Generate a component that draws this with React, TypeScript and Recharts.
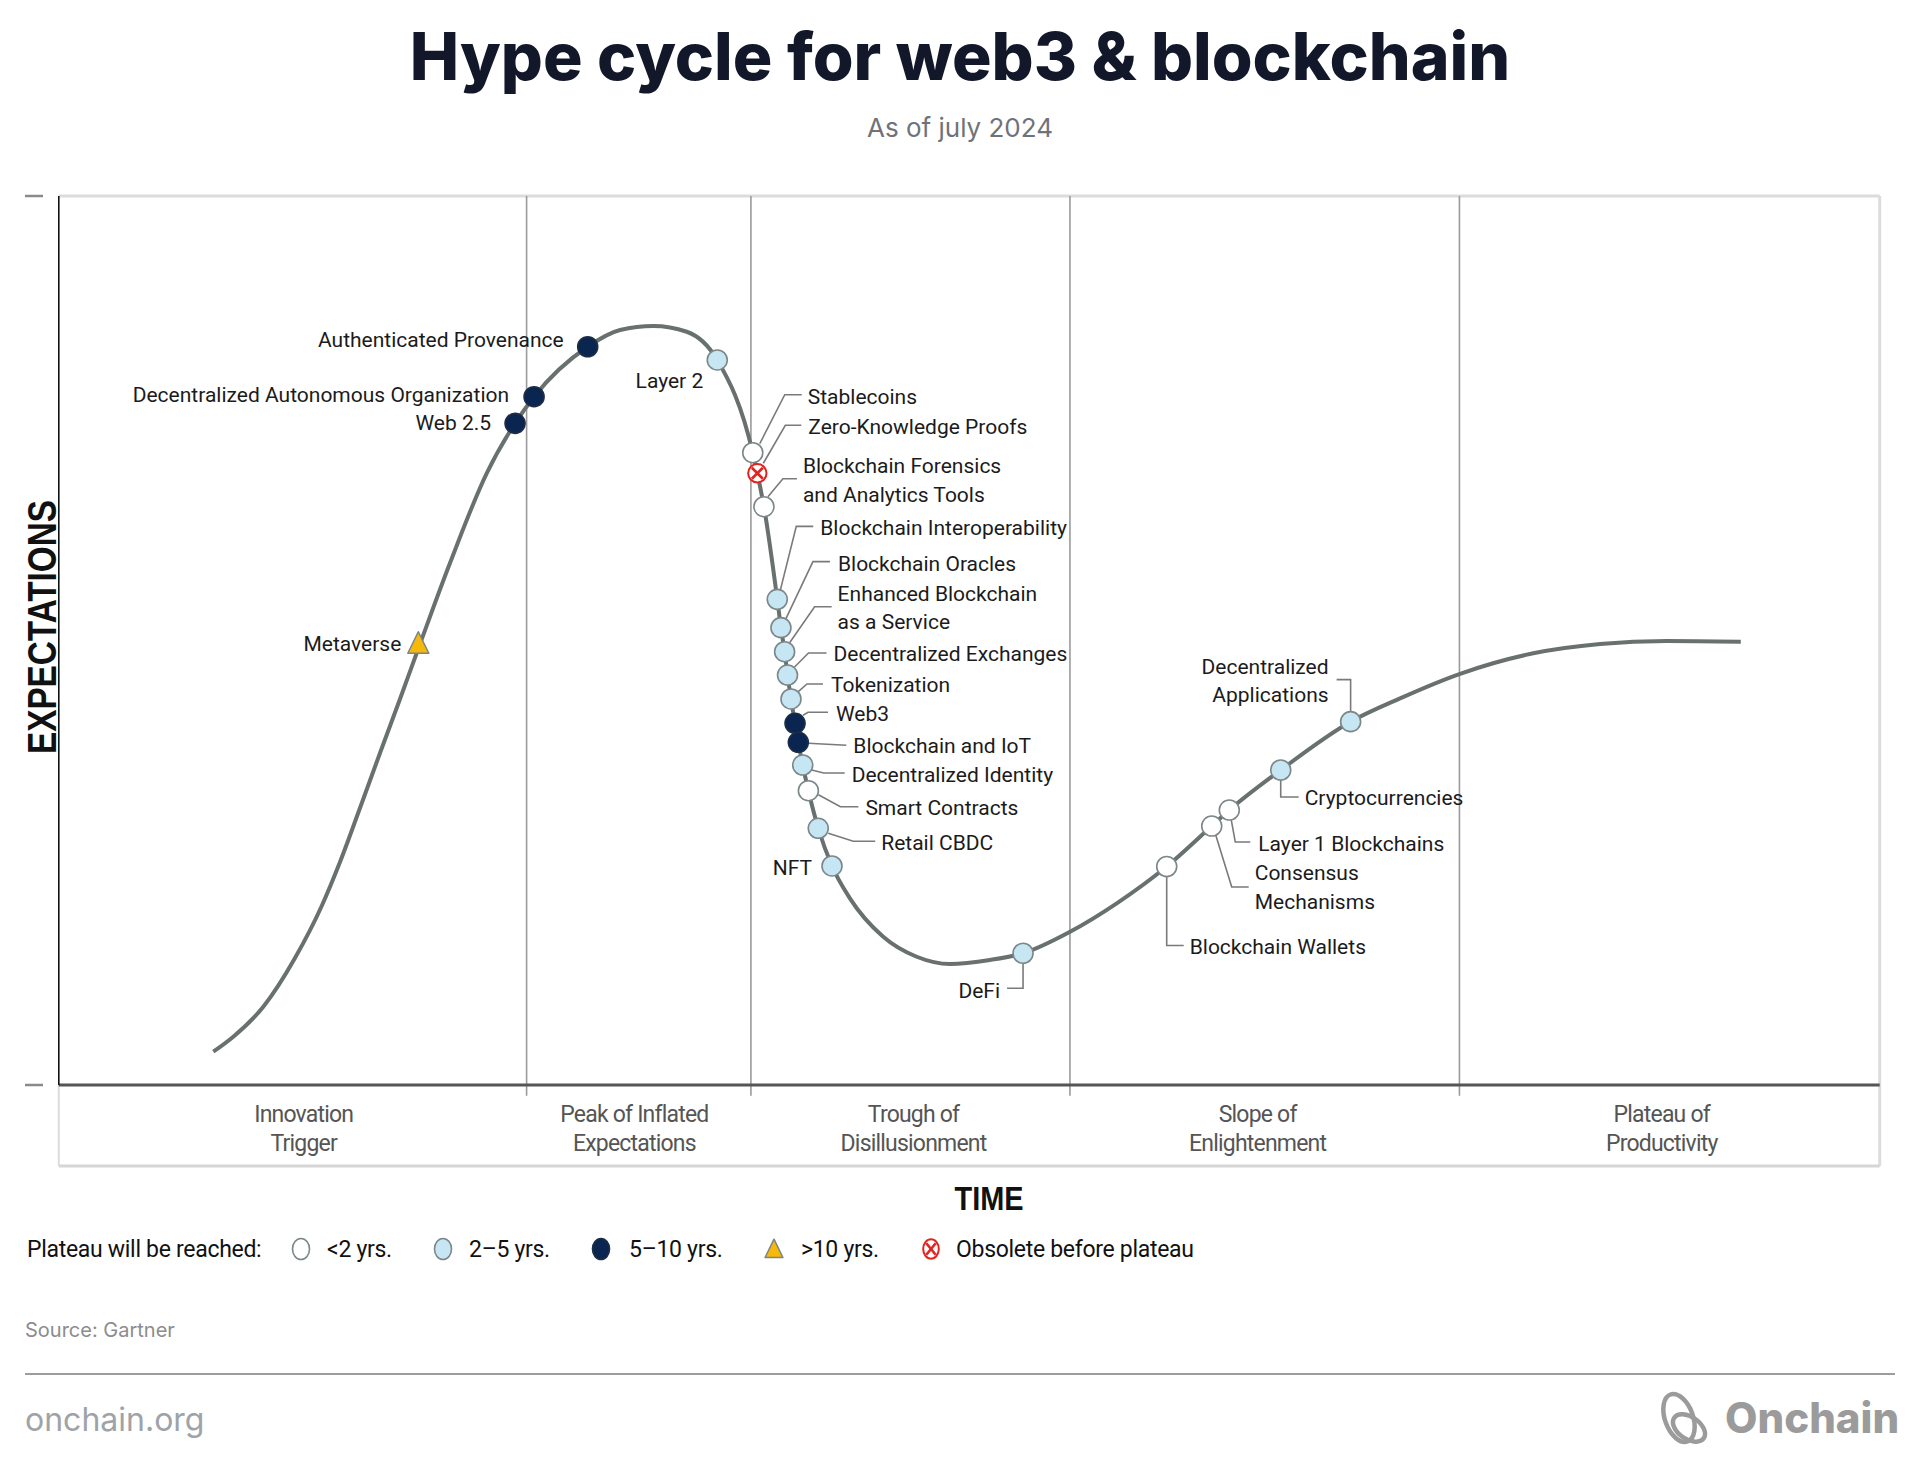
import React from 'react';
import { ComposedChart, Line, Scatter, XAxis, YAxis, ReferenceLine } from 'recharts';

if (typeof document !== 'undefined') {
  document.body.style.margin = '0';
}

// ---------- data ----------
const curvePoints = [
  { x: 8.485, y: 3.746 }, { x: 9.583, y: 5.433 }, { x: 11.231, y: 8.808 }, { x: 12.972, y: 14.286 },
  { x: 14.438, y: 20.135 }, { x: 15.443, y: 25.084 }, { x: 16.541, y: 31.159 }, { x: 17.64, y: 37.345 },
  { x: 18.738, y: 43.42 }, { x: 19.836, y: 49.606 }, { x: 21.484, y: 58.718 }, { x: 23.499, y: 68.808 },
  { x: 25.056, y: 74.429 }, { x: 26.101, y: 77.424 }, { x: 29.046, y: 83.042 }, { x: 30.824, y: 84.922 },
  { x: 32.653, y: 85.374 }, { x: 34.483, y: 84.731 }, { x: 36.161, y: 81.555 }, { x: 38.111, y: 71.122 },
  { x: 38.362, y: 68.811 }, { x: 38.724, y: 65.052 }, { x: 39.457, y: 54.629 }, { x: 39.659, y: 51.443 },
  { x: 39.86, y: 48.74 }, { x: 40.02, y: 46.116 }, { x: 40.211, y: 43.423 }, { x: 40.432, y: 40.689 },
  { x: 40.613, y: 38.548 }, { x: 40.854, y: 35.995 }, { x: 41.166, y: 33.101 }, { x: 41.708, y: 28.879 },
  { x: 42.462, y: 24.638 }, { x: 43.447, y: 21.0 }, { x: 45.276, y: 16.678 }, { x: 47.115, y: 14.427 },
  { x: 48.945, y: 13.613 }, { x: 51.135, y: 14.065 }, { x: 52.954, y: 14.819 }, { x: 55.537, y: 17.241 },
  { x: 58.1, y: 20.437 }, { x: 60.844, y: 24.578 }, { x: 63.316, y: 29.131 }, { x: 64.281, y: 30.93 },
  { x: 67.105, y: 35.433 }, { x: 70.944, y: 40.87 }, { x: 73.66, y: 43.493 }, { x: 76.917, y: 46.227 },
  { x: 80.974, y: 48.558 }, { x: 84.643, y: 49.604 }, { x: 88.3, y: 49.945 }, { x: 92.371, y: 49.865 },
];

// status: lt2 = <2 yrs, y2to5 = 2-5 yrs, y5to10 = 5-10 yrs, gt10 = >10 yrs, obsolete
const technologies = [
  { name: 'Metaverse', label: ['Metaverse'], x: 19.743, y: 49.685, status: 'gt10' },
  { name: 'Web 2.5', label: ['Web 2.5'], x: 25.056, y: 74.429, status: 'y5to10' },
  { name: 'DAO', label: ['Decentralized Autonomous Organization'], x: 26.101, y: 77.424, status: 'y5to10' },
  { name: 'AuthProv', label: ['Authenticated Provenance'], x: 29.046, y: 83.042, status: 'y5to10' },
  { name: 'Layer 2', label: ['Layer 2'], x: 36.161, y: 81.555, status: 'y2to5' },
  { name: 'Stablecoins', label: ['Stablecoins'], x: 38.111, y: 71.122, status: 'lt2' },
  { name: 'ZKP', label: ['Zero-Knowledge Proofs'], x: 38.362, y: 68.811, status: 'obsolete' },
  { name: 'Forensics', label: ['Blockchain Forensics', 'and Analytics Tools'], x: 38.724, y: 65.052, status: 'lt2' },
  { name: 'Interop', label: ['Blockchain Interoperability'], x: 39.457, y: 54.629, status: 'y2to5' },
  { name: 'Oracles', label: ['Blockchain Oracles'], x: 39.659, y: 51.443, status: 'y2to5' },
  { name: 'EBaaS', label: ['Enhanced Blockchain', 'as a Service'], x: 39.86, y: 48.74, status: 'y2to5' },
  { name: 'DEX', label: ['Decentralized Exchanges'], x: 40.02, y: 46.116, status: 'y2to5' },
  { name: 'Tokenization', label: ['Tokenization'], x: 40.211, y: 43.423, status: 'y2to5' },
  { name: 'Web3', label: ['Web3'], x: 40.432, y: 40.689, status: 'y5to10' },
  { name: 'IoT', label: ['Blockchain and IoT'], x: 40.613, y: 38.548, status: 'y5to10' },
  { name: 'DecId', label: ['Decentralized Identity'], x: 40.854, y: 35.995, status: 'y2to5' },
  { name: 'Smart', label: ['Smart Contracts'], x: 41.166, y: 33.101, status: 'lt2' },
  { name: 'CBDC', label: ['Retail CBDC'], x: 41.708, y: 28.879, status: 'y2to5' },
  { name: 'NFT', label: ['NFT'], x: 42.462, y: 24.638, status: 'y2to5' },
  { name: 'DeFi', label: ['DeFi'], x: 52.954, y: 14.819, status: 'y2to5' },
  { name: 'Wallets', label: ['Blockchain Wallets'], x: 60.844, y: 24.578, status: 'lt2' },
  { name: 'Consensus', label: ['Consensus', 'Mechanisms'], x: 63.316, y: 29.131, status: 'lt2' },
  { name: 'Layer1', label: ['Layer 1 Blockchains'], x: 64.281, y: 30.93, status: 'lt2' },
  { name: 'Crypto', label: ['Cryptocurrencies'], x: 67.105, y: 35.433, status: 'y2to5' },
  { name: 'DApps', label: ['Decentralized', 'Applications'], x: 70.944, y: 40.87, status: 'y2to5' },
];

const phaseNames = [
  ['Innovation', 'Trigger'],
  ['Peak of Inflated', 'Expectations'],
  ['Trough of', 'Disillusionment'],
  ['Slope of', 'Enlightenment'],
  ['Plateau of', 'Productivity'],
];
const phaseCenters = [13.45, 31.61, 46.94, 65.84, 88.03];
const phaseBoundaries = [25.69, 38.01, 55.53, 76.92];

const legendLabels = ['<2 yrs.', '2–5 yrs.', '5–10 yrs.', '>10 yrs.', 'Obsolete before plateau'];
const legendStatuses = ['lt2', 'y2to5', 'y5to10', 'gt10', 'obsolete'];

// ---------- layout (pixel offsets of labels relative to markers) ----------
type Layout = { lead?: number[][]; tx: number; ty: number[]; anchor: 'start' | 'end' };
const labelLayout: Record<string, Layout> = {
  Metaverse: { tx: -17, ty: [0], anchor: 'end' },
  'Web 2.5': { tx: -24, ty: [-1], anchor: 'end' },
  DAO: { tx: -25, ty: [-2], anchor: 'end' },
  AuthProv: { tx: -24, ty: [-7], anchor: 'end' },
  'Layer 2': { tx: -14, ty: [21], anchor: 'end' },
  Stablecoins: { lead: [[7, -9], [32, -58], [49, -58]], tx: 55, ty: [-56], anchor: 'start' },
  ZKP: { lead: [[6, -10], [28, -48], [44, -48]], tx: 51, ty: [-47], anchor: 'start' },
  Forensics: { lead: [[4, -10], [19, -28], [33, -28]], tx: 39, ty: [-41, -12], anchor: 'start' },
  Interop: { lead: [[3, -9], [19, -73], [36, -73]], tx: 43, ty: [-72], anchor: 'start' },
  Oracles: { lead: [[5, -9], [32, -66], [49, -66]], tx: 57, ty: [-64], anchor: 'start' },
  EBaaS: { lead: [[5, -9], [30, -45], [47, -45]], tx: 53, ty: [-58, -30], anchor: 'start' },
  DEX: { lead: [[7, -8], [21, -22], [39, -22]], tx: 46, ty: [-21], anchor: 'start' },
  Tokenization: { lead: [[7, -7], [16, -15], [32, -15]], tx: 40, ty: [-14], anchor: 'start' },
  Web3: { lead: [[8, -8], [13, -11], [33, -11]], tx: 41, ty: [-10], anchor: 'start' },
  IoT: { lead: [[10, 1], [48, 3]], tx: 55, ty: [3], anchor: 'start' },
  DecId: { lead: [[9, 5], [21, 8], [42, 8]], tx: 49, ty: [10], anchor: 'start' },
  Smart: { lead: [[10, 4], [32, 16], [50, 16]], tx: 57, ty: [17], anchor: 'start' },
  CBDC: { lead: [[10, 5], [35, 13], [57, 13]], tx: 63, ty: [14], anchor: 'start' },
  NFT: { tx: -20, ty: [2], anchor: 'end' },
  DeFi: { lead: [[0, 10], [0, 35], [-16, 35]], tx: -23, ty: [37], anchor: 'end' },
  Wallets: { lead: [[0, 10], [0, 79], [17, 79]], tx: 23, ty: [80], anchor: 'start' },
  Consensus: { lead: [[4, 9], [20, 61], [37, 61]], tx: 43, ty: [47, 76], anchor: 'start' },
  Layer1: { lead: [[2, 10], [6, 32], [21, 32]], tx: 29, ty: [34], anchor: 'start' },
  Crypto: { lead: [[0, 10], [0, 27], [18, 27]], tx: 24, ty: [28], anchor: 'start' },
  DApps: { lead: [[0, -10], [0, -42], [-14, -42]], tx: -22, ty: [-55, -27], anchor: 'end' },
};

const LABEL_FONT = 'Roboto, "Noto Sans", sans-serif';

const Marker = ({ cx, cy, status, r = 10, ry }: { cx: number; cy: number; status: string; r?: number; ry?: number }) => {
  const rv = ry ?? r;
  if (status === 'gt10') {
    const s = r * 1.05;
    return (
      <path
        d={`M${cx},${cy - s * 1.1} L${cx + s},${cy + s * 0.95} L${cx - s},${cy + s * 0.95} Z`}
        fill="#f6b80b"
        stroke="#7c8486"
        strokeWidth={1.5}
        strokeLinejoin="round"
      />
    );
  }
  if (status === 'obsolete') {
    const d = r * 0.55;
    const dv = rv * 0.55;
    return (
      <g>
        <ellipse cx={cx} cy={cy} rx={r * 0.92} ry={rv * 0.92} fill="#ffffff" stroke="#e2231f" strokeWidth={2} />
        <line x1={cx - d} y1={cy - dv} x2={cx + d} y2={cy + dv} stroke="#e2231f" strokeWidth={2.6} />
        <line x1={cx - d} y1={cy + dv} x2={cx + d} y2={cy - dv} stroke="#e2231f" strokeWidth={2.6} />
      </g>
    );
  }
  const fill = status === 'lt2' ? '#ffffff' : status === 'y2to5' ? '#c6e6f3' : '#0a2550';
  const stroke = status === 'y5to10' ? '#1e2d45' : '#7c8789';
  return <ellipse cx={cx} cy={cy} rx={r} ry={rv} fill={fill} stroke={stroke} strokeWidth={1.6} />;
};

const LabelShape = (props: any) => {
  const { cx, cy, payload } = props;
  if (cx == null || cy == null || !payload) return <g />;
  const lay = labelLayout[payload.name];
  if (!lay) return <g />;
  return (
    <g>
      {lay.lead && (
        <polyline
          points={lay.lead.map((p) => `${cx + p[0]},${cy + p[1]}`).join(' ')}
          fill="none"
          stroke="#7a7a7a"
          strokeWidth={1.6}
        />
      )}
      {payload.label.map((t: string, i: number) => (
        <text
          key={i}
          x={cx + lay.tx}
          y={cy + lay.ty[i]}
          dy="0.35em"
          textAnchor={lay.anchor}
          fontFamily={LABEL_FONT}
          fontSize={21}
          fill="#1b1b1b"
        >
          {t}
        </text>
      ))}
    </g>
  );
};

const MarkerShape = (props: any) => {
  const { cx, cy, payload } = props;
  if (cx == null || cy == null || !payload) return <g />;
  return <Marker cx={cx} cy={cy} status={payload.status} />;
};

const PhaseTick = (props: any) => {
  const { x, y, payload } = props;
  const i = phaseCenters.indexOf(payload.value);
  const lines = phaseNames[i] || [];
  return (
    <g>
      {lines.map((l, k) => (
        <text
          key={k}
          x={x}
          y={y + 37 + k * 28.5}
          textAnchor="middle"
          fontFamily={LABEL_FONT}
          fontSize={23}
          letterSpacing={-0.8}
          fill="#555555"
        >
          {l}
        </text>
      ))}
    </g>
  );
};

const DashTick = (props: any) => (
  <line x1={25} x2={43} y1={props.y} y2={props.y} stroke="#8a8a8a" strokeWidth={2.5} />
);

const legendPos = [
  { sx: 301, tx: 327 },
  { sx: 443, tx: 469 },
  { sx: 601, tx: 629 },
  { sx: 774, tx: 801 },
  { sx: 931, tx: 956 },
];

export default function App() {
  return (
    <div style={{ position: 'relative', width: 1920, height: 1470, background: '#ffffff', overflow: 'hidden' }}>
      <svg width={1920} height={1470} style={{ position: 'absolute', left: 0, top: 0 }}>
        {/* title */}
        <text x={960} y={80} textAnchor="middle" fontFamily="Inter, sans-serif" fontWeight={800} fontSize={66} fill="#121829">
          Hype cycle for web3 &amp; blockchain
        </text>
        <text x={960} y={137} textAnchor="middle" fontFamily="Inter, sans-serif" fontSize={26} fill="#6f7378">
          As of july 2024
        </text>

        {/* frame */}
        <line x1={58.8} y1={196} x2={1879.7} y2={196} stroke="#dcdcdc" strokeWidth={3} />
        <line x1={1879.7} y1={196} x2={1879.7} y2={1166} stroke="#dcdcdc" strokeWidth={3} />
        <line x1={58.8} y1={1166} x2={1879.7} y2={1166} stroke="#d6d6d6" strokeWidth={3} />
        <line x1={58.8} y1={1085} x2={58.8} y2={1166} stroke="#dcdcdc" strokeWidth={2} />

        {/* axis titles */}
        <text
          x={56}
          y={627}
          transform="rotate(-90 56 627)"
          textAnchor="middle"
          fontFamily='"Liberation Sans", Arial, sans-serif'
          fontWeight={700}
          fontSize={40}
          textLength={254}
          lengthAdjust="spacingAndGlyphs"
          fill="#111111"
        >
          EXPECTATIONS
        </text>
        <text
          x={989}
          y={1210}
          textAnchor="middle"
          fontFamily='"Liberation Sans", Arial, sans-serif'
          fontWeight={700}
          fontSize={34}
          textLength={69}
          lengthAdjust="spacingAndGlyphs"
          fill="#111111"
        >
          TIME
        </text>

        {/* legend */}
        <text x={27} y={1257} fontFamily={LABEL_FONT} fontSize={23} letterSpacing={-0.3} fill="#111111">
          Plateau will be reached:
        </text>
        {legendLabels.map((l, i) => (
          <g key={l}>
            <Marker cx={legendPos[i].sx} cy={1249} status={legendStatuses[i]} r={8.5} ry={10.5} />
            <text x={legendPos[i].tx} y={1257} fontFamily={LABEL_FONT} fontSize={23} letterSpacing={-0.3} fill="#111111">
              {l}
            </text>
          </g>
        ))}

        {/* footer */}
        <text x={25} y={1337} fontFamily="Inter, sans-serif" fontSize={20} fill="#8c8c8c">
          Source: Gartner
        </text>
        <line x1={25} y1={1374} x2={1895} y2={1374} stroke="#9c9c9c" strokeWidth={2} />
        <text x={25} y={1431} fontFamily="Inter, sans-serif" fontSize={32} fill="#9ea3a8">
          onchain.org
        </text>
        <g fill="none" stroke="#9b9b9b" strokeWidth={4.5}>
          <ellipse cx={1679} cy={1418} rx={14} ry={25} transform="rotate(-20 1679 1418)" />
          <ellipse cx={1689} cy={1428} rx={18} ry={11} transform="rotate(35 1689 1428)" />
        </g>
        <text x={1725} y={1433} fontFamily="Inter, sans-serif" fontWeight={800} fontSize={42} fill="#9b9b9b">
          Onchain
        </text>
      </svg>

      <div style={{ position: 'absolute', left: 0, top: 0 }}>
        <ComposedChart width={1920} height={1470} margin={{ top: 196, right: 40.3, bottom: 305, left: 0 }}>
          <XAxis
            type="number"
            dataKey="x"
            domain={[0, 100]}
            ticks={phaseCenters}
            tick={<PhaseTick />}
            tickLine={false}
            tickSize={0}
            tickMargin={0}
            height={80}
            interval={0}
            axisLine={{ stroke: '#555555', strokeWidth: 3 }}
          />
          <YAxis
            type="number"
            dataKey="y"
            domain={[0, 100]}
            ticks={[0, 100]}
            width={58.8}
            tick={<DashTick />}
            tickLine={false}
            tickSize={0}
            tickMargin={0}
            axisLine={{ stroke: '#111111', strokeWidth: 1.6 }}
          />
          {phaseBoundaries.map((b) => (
            <ReferenceLine
              key={b}
              segment={[{ x: b, y: 100 }, { x: b, y: -1.2 }]}
              ifOverflow="visible"
              stroke="#9a9a9a"
              strokeWidth={1.6}
            />
          ))}
          <Line
            data={curvePoints}
            dataKey="y"
            type="monotone"
            stroke="#68716f"
            strokeWidth={4}
            dot={false}
            activeDot={false}
            isAnimationActive={false}
          />
          <Scatter data={technologies} shape={(p: any) => <LabelShape {...p} />} isAnimationActive={false} />
          <Scatter data={technologies} shape={(p: any) => <MarkerShape {...p} />} isAnimationActive={false} />
        </ComposedChart>
      </div>
    </div>
  );
}
